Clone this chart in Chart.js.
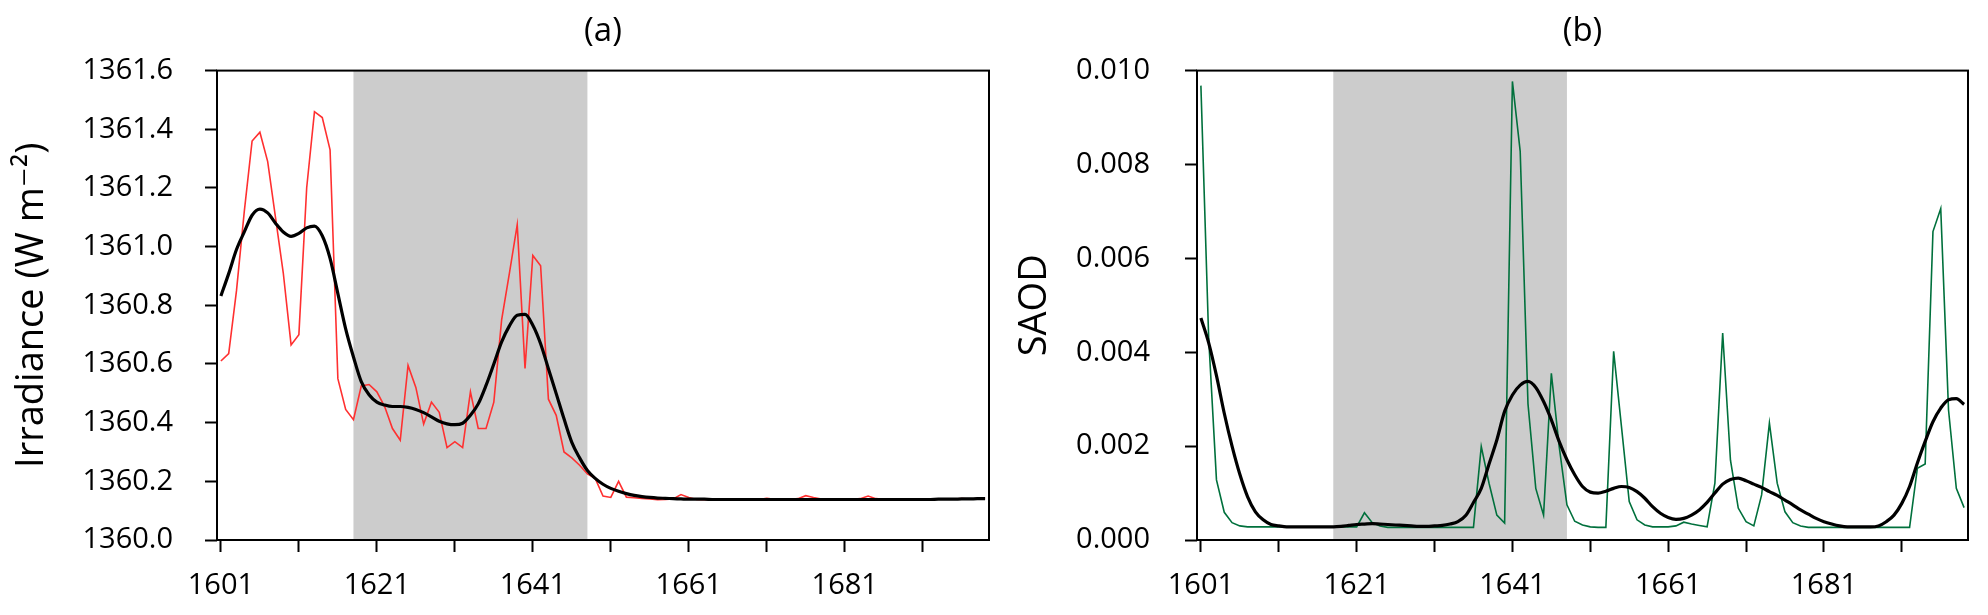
<!DOCTYPE html>
<html>
<head>
<meta charset="utf-8">
<script src="https://cdn.jsdelivr.net/npm/chart.js@4.4.1/dist/chart.umd.min.js"></script>
<style>
  html, body { margin: 0; padding: 0; background: #fff; }
  #wrap { position: relative; width: 1988px; height: 615px; }
  canvas { position: absolute; top: 0; }
  #chartA { left: 0; }
  #chartB { left: 994px; }
</style>
</head>
<body>
<div id="wrap">
  <canvas id="chartA" width="994" height="615"></canvas>
  <canvas id="chartB" width="994" height="615"></canvas>
</div>
<script>
// annual values, 1601 - 1699
const firstYear = 1601;

const irradiance = [
  1360.61, 1360.635, 1360.85, 1361.12, 1361.36, 1361.39, 1361.29, 1361.10, 1360.91, 1360.665,
  1360.70, 1361.20, 1361.46, 1361.44, 1361.33, 1360.55, 1360.445, 1360.41, 1360.525, 1360.53,
  1360.505, 1360.455, 1360.38, 1360.34, 1360.595, 1360.52, 1360.395, 1360.47, 1360.435, 1360.315,
  1360.335, 1360.315, 1360.505, 1360.38, 1360.38, 1360.47, 1360.75, 1360.91, 1361.075, 1360.585,
  1360.97, 1360.935, 1360.48, 1360.425, 1360.30, 1360.28, 1360.255, 1360.225, 1360.21, 1360.15,
  1360.145, 1360.20, 1360.146, 1360.144, 1360.142, 1360.14, 1360.137, 1360.138, 1360.14, 1360.155,
  1360.145, 1360.138, 1360.137, 1360.138, 1360.139, 1360.138, 1360.137, 1360.138, 1360.139, 1360.138,
  1360.142, 1360.139, 1360.138, 1360.138, 1360.141, 1360.151, 1360.145, 1360.14, 1360.139, 1360.137,
  1360.14, 1360.139, 1360.141, 1360.15, 1360.141, 1360.139, 1360.138, 1360.139, 1360.14, 1360.139,
  1360.138, 1360.139, 1360.14, 1360.139, 1360.14, 1360.141, 1360.14, 1360.141, 1360.142
];

const irradianceSmooth = [
  1360.832, 1360.908, 1360.99, 1361.05, 1361.107, 1361.128, 1361.115, 1361.08, 1361.05, 1361.035,
  1361.045, 1361.064, 1361.07, 1361.037, 1360.96, 1360.84, 1360.72, 1360.624, 1360.54, 1360.495,
  1360.47, 1360.46, 1360.455, 1360.455, 1360.452, 1360.445, 1360.434, 1360.42, 1360.405, 1360.396,
  1360.393, 1360.398, 1360.425, 1360.464, 1360.527, 1360.60, 1360.675, 1360.73, 1360.766, 1360.769,
  1360.732, 1360.669, 1360.584, 1360.499, 1360.413, 1360.333, 1360.28, 1360.237, 1360.21, 1360.19,
  1360.176, 1360.166, 1360.158, 1360.152, 1360.148, 1360.145, 1360.143, 1360.142, 1360.141, 1360.14,
  1360.139, 1360.139, 1360.139, 1360.138, 1360.138, 1360.138, 1360.138, 1360.138, 1360.138, 1360.138,
  1360.138, 1360.138, 1360.138, 1360.138, 1360.138, 1360.138, 1360.138, 1360.138, 1360.138, 1360.138,
  1360.138, 1360.138, 1360.138, 1360.138, 1360.138, 1360.138, 1360.138, 1360.138, 1360.138, 1360.138,
  1360.138, 1360.138, 1360.139, 1360.139, 1360.139, 1360.14, 1360.14, 1360.141, 1360.141
];

const saod = [
  0.00968, 0.0043, 0.00128, 0.00059, 0.00037, 0.00030, 0.00028, 0.00028, 0.00028, 0.00028,
  0.00028, 0.00028, 0.00028, 0.00028, 0.00028, 0.00028, 0.00028, 0.00028, 0.00028, 0.00028,
  0.00028, 0.00058, 0.00037, 0.00030, 0.00027, 0.00027, 0.00027, 0.00027, 0.00027, 0.00027,
  0.00027, 0.00027, 0.00027, 0.00027, 0.00027, 0.00027, 0.00199, 0.00121, 0.00053, 0.00036,
  0.00977, 0.00828, 0.0029, 0.0011, 0.00053, 0.00355, 0.0020, 0.00075, 0.0004, 0.00032,
  0.00028, 0.00027, 0.00027, 0.00402, 0.00242, 0.00082, 0.00043, 0.00032, 0.00028, 0.00028,
  0.00028, 0.0003, 0.00038, 0.00034, 0.00031, 0.00028, 0.00121, 0.00441, 0.0017, 0.00068,
  0.00039, 0.0003, 0.00096, 0.00249, 0.00121, 0.0006, 0.00037, 0.0003, 0.00027, 0.00027,
  0.00027, 0.00027, 0.00027, 0.00027, 0.00027, 0.00027, 0.00027, 0.00027, 0.00027, 0.00027,
  0.00027, 0.00027, 0.00153, 0.00162, 0.00657, 0.00706, 0.00277, 0.0011, 0.00069
];

const saodSmooth = [
  0.00473, 0.0042, 0.0035, 0.0027, 0.0020, 0.0014, 0.00092, 0.0006, 0.00043, 0.00033,
  0.0003, 0.00028, 0.00028, 0.00028, 0.00028, 0.00028, 0.00028, 0.00028, 0.00029, 0.00031,
  0.00033, 0.00034, 0.00035, 0.00034, 0.00033, 0.00032, 0.00031, 0.0003, 0.00029, 0.00029,
  0.0003, 0.00031, 0.00034, 0.00039, 0.00052, 0.0008, 0.0011, 0.00162, 0.00213, 0.00274,
  0.00309, 0.0033, 0.00338, 0.00325, 0.00295, 0.00256, 0.0021, 0.00171, 0.00139, 0.00114,
  0.00102, 0.001, 0.00104, 0.0011, 0.00114, 0.00112, 0.00103, 0.00089, 0.00071, 0.00057,
  0.00048, 0.00044, 0.00046, 0.00053, 0.00064, 0.0008, 0.001, 0.00119, 0.00129, 0.00132,
  0.00126, 0.00119, 0.00112, 0.00103, 0.00095, 0.00085, 0.00075, 0.00064, 0.00055, 0.00046,
  0.00039, 0.00034, 0.0003, 0.00028, 0.00028, 0.00028, 0.00028, 0.0003, 0.00039, 0.00053,
  0.00078, 0.00114, 0.00164, 0.0021, 0.00252, 0.00281, 0.00299, 0.00301, 0.00289
];

const years = irradiance.map((v, i) => firstYear + i);
const shadedYears = [1618, 1648];
const xTickYears = [1601, 1611, 1621, 1631, 1641, 1651, 1661, 1671, 1681, 1691];
const xLabelYears = [1601, 1621, 1641, 1661, 1681];
const irrTicks = [1360.0, 1360.2, 1360.4, 1360.6, 1360.8, 1361.0, 1361.2, 1361.4, 1361.6];
const saodTicks = [0, 0.002, 0.004, 0.006, 0.008, 0.010];

Chart.defaults.font.family = "'Open Sans', 'DejaVu Sans', sans-serif";
Chart.defaults.color = "#000";

const toPoints = (vals) => vals.map((v, i) => ({ x: years[i], y: v }));

// grey band behind the lines
const shadePlugin = {
  id: "shade",
  beforeDatasetsDraw(chart) {
    const { ctx, chartArea: a, scales: { x } } = chart;
    const x1 = x.getPixelForValue(shadedYears[0]);
    const x2 = x.getPixelForValue(shadedYears[1]);
    ctx.save();
    ctx.fillStyle = "#cccccc";
    ctx.fillRect(x1, a.top, x2 - x1, a.height);
    ctx.restore();
  },
};

// box round the plot
const framePlugin = {
  id: "frame",
  afterDatasetsDraw(chart) {
    const { ctx, chartArea: a } = chart;
    ctx.save();
    ctx.strokeStyle = "#000";
    ctx.lineWidth = 2;
    ctx.strokeRect(a.left, a.top, a.width, a.height);
    ctx.restore();
  },
};

const tickGrid = {
  drawOnChartArea: false,
  drawTicks: true,
  tickLength: 12,
  tickWidth: 2,
  tickColor: "#000",
};

function makePanel(id, cfg) {
  return new Chart(document.getElementById(id), {
    type: "line",
    data: {
      datasets: [
        {
          data: toPoints(cfg.smooth),
          borderColor: "#000",
          borderWidth: 3.2,
          cubicInterpolationMode: "monotone",
          pointRadius: 0,
        },
        {
          data: toPoints(cfg.raw),
          borderColor: cfg.color,
          borderWidth: 1.6,
          pointRadius: 0,
        },
      ],
    },
    options: {
      responsive: false,
      animation: false,
      devicePixelRatio: 1,
      layout: { padding: { left: 0, right: cfg.padRight, top: 0, bottom: 0 } },
      plugins: {
        legend: { display: false },
        tooltip: { enabled: false },
        title: {
          display: true,
          text: cfg.title,
          fullSize: false,
          color: "#000",
          font: { size: 33, weight: "normal" },
          padding: { top: 12, bottom: 19 },
        },
      },
      scales: {
        x: {
          type: "linear",
          min: 1600.5,
          max: 1699.5,
          afterBuildTicks: (s) => {
            s.ticks = xTickYears.map((v) => ({ value: v }));
          },
          afterFit: (s) => {
            s.height = 75;
          },
          grid: tickGrid,
          border: { display: false },
          ticks: {
            autoSkip: false,
            maxRotation: 0,
            padding: 16,
            font: { size: 29 },
            callback: (v) => (xLabelYears.includes(v) ? String(v) : ""),
          },
        },
        y: {
          min: cfg.ticks[0],
          max: cfg.ticks[cfg.ticks.length - 1],
          afterBuildTicks: (s) => {
            s.ticks = cfg.ticks.map((v) => ({ value: v }));
          },
          afterFit: (s) => {
            s.width = cfg.axisWidth;
          },
          grid: tickGrid,
          border: { display: false },
          ticks: {
            padding: cfg.tickPad,
            font: { size: 29 },
            callback: (v) => v.toFixed(cfg.digits),
          },
          title: {
            display: true,
            text: cfg.yTitle,
            font: { size: 38 },
            padding: { top: cfg.titlePad, bottom: 0 },
          },
        },
      },
    },
    plugins: [shadePlugin, framePlugin],
  });
}

makePanel("chartA", {
  title: "(a)",
  yTitle: "Irradiance (W m\u207B\u00B2)",
  raw: irradiance,
  smooth: irradianceSmooth,
  color: "#ff3030",
  ticks: irrTicks,
  digits: 1,
  axisWidth: 217,
  padRight: 5,
  tickPad: 32,
  titlePad: 9,
});

makePanel("chartB", {
  title: "(b)",
  yTitle: "SAOD",
  raw: saod,
  smooth: saodSmooth,
  color: "#00703c",
  ticks: saodTicks,
  digits: 3,
  axisWidth: 203,
  padRight: 20,
  tickPad: 35,
  titlePad: 18,
});
</script>
</body>
</html>
